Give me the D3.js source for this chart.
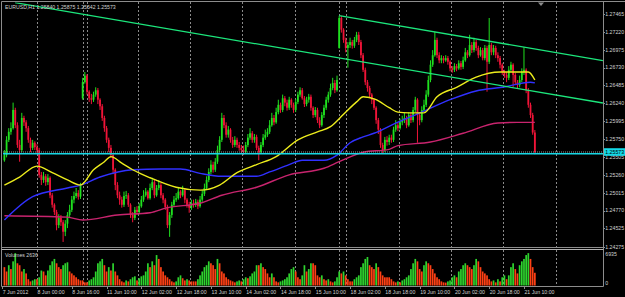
<!DOCTYPE html>
<html><head><meta charset="utf-8">
<script src="https://cdn.jsdelivr.net/npm/d3@7/dist/d3.min.js"></script>
<style>html,body{margin:0;padding:0;background:#000;overflow:hidden}svg{display:block}</style>
</head><body>
<script>
const titleText = "EURUSD,H1  1.25840 1.25875 1.25542 1.25573";
const volumeTitle = "Volumes 2636";
const firstOpen = 1.2546;
const gapOpens = [[36, 1.2631], [154, 1.2700]];
const closes = [1.2553,1.2574,1.2585,1.2590,1.2615,1.2594,1.2567,1.2560,1.2604,1.2598,
1.2590,1.2574,1.2563,1.2570,1.2564,1.2560,1.2526,1.2519,1.2524,1.2516,
1.2522,1.2498,1.2485,1.2475,1.2457,1.2467,1.2461,1.2448,1.2459,1.2471,
1.2478,1.2492,1.2497,1.2501,1.2496,1.2511,1.2653,1.2662,1.2640,1.2631,
1.2629,1.2636,1.2642,1.2629,1.2620,1.2604,1.2590,1.2574,1.2563,1.2553,
1.2533,1.2512,1.2498,1.2492,1.2485,1.2497,1.2498,1.2485,1.2471,1.2467,
1.2478,1.2475,1.2483,1.2492,1.2498,1.2503,1.2494,1.2508,1.2516,1.2498,
1.2508,1.2512,1.2498,1.2492,1.2482,1.2457,1.2471,1.2485,1.2492,1.2494,
1.2503,1.2498,1.2505,1.2492,1.2485,1.2481,1.2487,1.2485,1.2489,1.2483,
1.2492,1.2500,1.2508,1.2519,1.2530,1.2540,1.2533,1.2544,1.2560,1.2574,
1.2604,1.2594,1.2581,1.2588,1.2574,1.2567,1.2574,1.2567,1.2563,1.2560,
1.2557,1.2567,1.2577,1.2583,1.2574,1.2578,1.2563,1.2557,1.2567,1.2577,
1.2581,1.2585,1.2594,1.2604,1.2598,1.2612,1.2622,1.2615,1.2631,1.2625,
1.2618,1.2629,1.2622,1.2615,1.2626,1.2636,1.2642,1.2631,1.2623,1.2629,
1.2633,1.2618,1.2608,1.2615,1.2601,1.2594,1.2608,1.2618,1.2629,1.2636,
1.2645,1.2652,1.2642,1.2656,1.2741,1.2725,1.2711,1.2700,1.2704,1.2708,
1.2703,1.2711,1.2718,1.2708,1.2690,1.2670,1.2653,1.2645,1.2636,1.2629,
1.2618,1.2601,1.2588,1.2567,1.2560,1.2574,1.2571,1.2577,1.2574,1.2588,
1.2594,1.2590,1.2598,1.2601,1.2604,1.2594,1.2608,1.2601,1.2615,1.2629,
1.2608,1.2601,1.2615,1.2622,1.2636,1.2656,1.2677,1.2690,1.2711,1.2690,
1.2683,1.2686,1.2683,1.2686,1.2681,1.2672,1.2670,1.2675,1.2672,1.2679,
1.2674,1.2683,1.2694,1.2690,1.2704,1.2697,1.2708,1.2700,1.2690,1.2697,
1.2686,1.2700,1.2681,1.2704,1.2694,1.2700,1.2690,1.2686,1.2677,1.2667,
1.2663,1.2659,1.2670,1.2677,1.2663,1.2653,1.2649,1.2656,1.2667,1.2670,
1.2642,1.2622,1.2608,1.2584,1.25573];
const highs = [1.2560,1.2579,1.2590,1.2598,1.2625,1.2618,1.2598,1.2574,1.2611,1.2607,
1.2601,1.2593,1.2577,1.2574,1.2572,1.2568,1.2563,1.2530,1.2530,1.2527,
1.2527,1.2524,1.2501,1.2487,1.2478,1.2472,1.2471,1.2464,1.2464,1.2475,
1.2485,1.2497,1.2503,1.2508,1.2505,1.2515,1.2659,1.2667,1.2664,1.2642,
1.2637,1.2640,1.2646,1.2645,1.2631,1.2623,1.2607,1.2593,1.2577,1.2567,
1.2556,1.2535,1.2516,1.2503,1.2496,1.2503,1.2504,1.2501,1.2487,1.2475,
1.2482,1.2483,1.2487,1.2497,1.2505,1.2508,1.2505,1.2514,1.2522,1.2519,
1.2512,1.2519,1.2515,1.2501,1.2494,1.2485,1.2475,1.2489,1.2497,1.2501,
1.2508,1.2505,1.2511,1.2508,1.2494,1.2489,1.2492,1.2492,1.2493,1.2492,
1.2497,1.2505,1.2514,1.2524,1.2535,1.2546,1.2544,1.2549,1.2566,1.2579,
1.2611,1.2608,1.2598,1.2593,1.2590,1.2578,1.2579,1.2577,1.2571,1.2567,
1.2566,1.2571,1.2582,1.2590,1.2586,1.2582,1.2581,1.2566,1.2571,1.2582,
1.2588,1.2590,1.2601,1.2611,1.2608,1.2618,1.2629,1.2625,1.2636,1.2634,
1.2629,1.2633,1.2631,1.2625,1.2630,1.2640,1.2646,1.2645,1.2634,1.2633,
1.2637,1.2636,1.2620,1.2619,1.2618,1.2605,1.2612,1.2622,1.2633,1.2640,
1.2651,1.2659,1.2656,1.2662,1.2744,1.2744,1.2727,1.2714,1.2708,1.2714,
1.2711,1.2715,1.2722,1.2722,1.2711,1.2693,1.2673,1.2656,1.2648,1.2638,
1.2631,1.2620,1.2604,1.2590,1.2570,1.2578,1.2579,1.2581,1.2581,1.2592,
1.2601,1.2598,1.2603,1.2607,1.2611,1.2607,1.2612,1.2611,1.2619,1.2633,
1.2631,1.2612,1.2620,1.2629,1.2642,1.2662,1.2683,1.2697,1.2722,1.2714,
1.2694,1.2690,1.2689,1.2690,1.2689,1.2683,1.2675,1.2679,1.2678,1.2683,
1.2682,1.2688,1.2700,1.2697,1.2718,1.2708,1.2714,1.2711,1.2703,1.2701,
1.2700,1.2704,1.2703,1.2741,1.2707,1.2704,1.2703,1.2694,1.2689,1.2679,
1.2670,1.2667,1.2675,1.2681,1.2679,1.2666,1.2656,1.2662,1.2672,1.2701,
1.2672,1.2645,1.2625,1.2611,1.25875];
const lows = [1.2544,1.2550,1.2571,1.2581,1.2588,1.2590,1.2563,1.2544,1.2557,1.2593,
1.2585,1.2570,1.2557,1.2560,1.2560,1.2555,1.2522,1.2512,1.2515,1.2511,
1.2512,1.2494,1.2481,1.2471,1.2450,1.2453,1.2456,1.2434,1.2442,1.2453,
1.2467,1.2475,1.2487,1.2494,1.2492,1.2493,1.2629,1.2651,1.2636,1.2626,
1.2623,1.2626,1.2633,1.2623,1.2615,1.2600,1.2585,1.2570,1.2557,1.2549,
1.2527,1.2505,1.2494,1.2485,1.2481,1.2482,1.2493,1.2482,1.2467,1.2461,
1.2464,1.2471,1.2472,1.2481,1.2489,1.2496,1.2492,1.2492,1.2505,1.2494,
1.2496,1.2505,1.2494,1.2487,1.2478,1.2453,1.2441,1.2467,1.2482,1.2489,
1.2492,1.2494,1.2496,1.2487,1.2481,1.2474,1.2478,1.2481,1.2482,1.2479,
1.2481,1.2489,1.2497,1.2505,1.2516,1.2527,1.2529,1.2530,1.2541,1.2557,
1.2571,1.2590,1.2577,1.2577,1.2570,1.2563,1.2564,1.2563,1.2559,1.2555,
1.2553,1.2555,1.2564,1.2574,1.2570,1.2570,1.2560,1.2546,1.2555,1.2564,
1.2574,1.2578,1.2582,1.2592,1.2594,1.2596,1.2609,1.2611,1.2612,1.2620,
1.2614,1.2615,1.2618,1.2611,1.2612,1.2623,1.2633,1.2629,1.2619,1.2620,
1.2625,1.2614,1.2604,1.2605,1.2597,1.2590,1.2592,1.2604,1.2615,1.2625,
1.2633,1.2642,1.2638,1.2640,1.2699,1.2721,1.2707,1.2694,1.2673,1.2700,
1.2699,1.2700,1.2708,1.2704,1.2686,1.2667,1.2649,1.2640,1.2631,1.2623,
1.2615,1.2596,1.2582,1.2563,1.2556,1.2557,1.2566,1.2567,1.2570,1.2571,
1.2585,1.2586,1.2588,1.2594,1.2597,1.2590,1.2592,1.2597,1.2598,1.2612,
1.2570,1.2594,1.2598,1.2612,1.2619,1.2633,1.2653,1.2674,1.2688,1.2686,
1.2679,1.2679,1.2679,1.2681,1.2677,1.2668,1.2666,1.2667,1.2668,1.2670,
1.2670,1.2671,1.2681,1.2686,1.2688,1.2693,1.2694,1.2696,1.2686,1.2688,
1.2683,1.2683,1.2640,1.2678,1.2690,1.2690,1.2686,1.2681,1.2672,1.2663,
1.2659,1.2653,1.2656,1.2667,1.2646,1.2649,1.2645,1.2646,1.2653,1.2663,
1.2638,1.2618,1.2604,1.2581,1.25542];
const volumes = [3800,2900,4200,3400,5000,6700,4600,4200,2900,3400,
2500,1300,850,1050,1300,1300,1700,3100,2900,2100,
3100,4200,5000,5500,4600,3800,3400,4200,4600,4800,
2900,2500,2100,1700,1300,1050,1050,650,650,1050,
1300,1700,2900,4600,5000,5500,4200,2900,3800,3100,
4600,2900,2100,1300,850,650,1050,850,1300,1700,
1900,1050,1500,1900,2100,2900,4600,3800,5000,4200,
6300,5500,3800,2900,2100,1700,1300,850,650,850,
1700,2100,1500,1050,1300,1050,850,850,850,1300,
2100,2900,3800,4200,5000,4600,4200,3400,5500,4600,
2900,2500,1700,1300,1050,850,650,850,1050,850,
1300,1700,1500,1900,2500,2900,4200,4200,4600,3800,
3400,2500,1700,2500,1700,850,650,850,1050,1300,
1700,2500,3400,3800,2900,1700,1300,2100,4200,2900,
3400,4600,4600,4200,2100,1700,2100,1300,1050,1300,
850,650,850,1700,2900,2500,2900,2100,1300,850,
850,1300,1700,2100,3800,4600,5500,5900,4200,3800,
3400,4600,3800,2900,2100,1700,1700,1700,1300,850,
650,850,650,1050,1300,1700,2100,3400,4600,5500,
5000,3400,2900,4200,5000,4600,4200,3400,2500,1700,
1300,850,650,600,850,1050,1700,2100,1700,2900,
3400,4200,4600,4200,3800,3400,4200,5500,5000,3800,
2900,2500,2100,1300,850,1050,650,1300,850,1700,
2100,1300,2100,3800,4600,3400,2500,4200,5000,5500,
6300,6700,5500,3800,2636];
// moving averages: [bar index, price]
const maYellow = [[0,1.2512],[7,1.2523],[15,1.2538],[22,1.2529],[29,1.2519],[35,1.2512],[41,1.2533],[46,1.2544],[49,1.2551],[54,1.2542],[59,1.2533],[67,1.2522],[79,1.2509],[90,1.2505],[99,1.2512],[107,1.2529],[116,1.2540],[125,1.2551],[135,1.2574],[144,1.2585],[150,1.2592],[156,1.2609],[162,1.2626],[165,1.2633],[171,1.2629],[177,1.2618],[181,1.2612],[186,1.2611],[193,1.2611],[199,1.2633],[208,1.2646],[217,1.2660],[228,1.2667],[241,1.2667],[244,1.2656]];
const maBlue = [[0,1.2464],[13,1.2496],[29,1.2508],[35,1.2512],[44,1.2523],[59,1.2533],[72,1.2534],[81,1.2534],[90,1.2528],[100,1.2524],[116,1.2524],[122,1.2530],[131,1.2540],[137,1.2546],[147,1.2546],[153,1.2553],[159,1.2570],[165,1.2578],[170,1.2583],[180,1.2597],[192,1.2612],[205,1.2629],[217,1.2641],[229,1.2646],[242,1.2653],[244,1.2652]];
const maMagenta = [[0,1.2470],[29,1.2468],[36,1.2464],[52,1.2471],[67,1.2474],[75,1.2481],[90,1.2487],[100,1.2498],[116,1.2509],[131,1.2526],[147,1.2535],[154,1.2544],[165,1.2557],[177,1.2561],[181,1.2566],[196,1.2571],[211,1.2583],[227,1.2597],[236,1.2598],[244,1.2598]];
const lowerChannel = [[4.9, 1.27620], [275.3, 1.26245]];
const upperChannel = [[154, 1.27442], [275.3, 1.26826]];
const bidPrice = 1.25573;
const supportLevel = 1.2555;
const priceTicks = [1.27465,1.27220,1.26975,1.26730,1.26485,1.26240,1.25995,1.25750,1.25505,1.25260,1.25015,1.24770,1.24525,1.24275];
const volumeTicks = [6935, 0];
const timeLabels = ["7 Jun 2012","8 Jun 00:00","8 Jun 16:00","11 Jun 10:00","12 Jun 02:00","12 Jun 18:00","13 Jun 10:00","14 Jun 02:00","14 Jun 18:00","15 Jun 10:00","18 Jun 02:00","18 Jun 18:00","19 Jun 10:00","20 Jun 02:00","20 Jun 18:00","21 Jun 10:00"];
const timeLabelIdx = [-1,15,31,47,63,79,95,111,127,143,159,175,191,207,223,239];
const daySepIdx = [15,36,38,61.5,85.5,109.5,133.5,154,157,181.5,205.5,229.5,253.5];

const W = 625, H = 297;
const FONT = "'Liberation Sans', Arial, sans-serif";
const FS = 5.2;
const svg = d3.select("body").append("svg").attr("width", W).attr("height", H).style("background", "#000");
const x = d3.scaleLinear().domain([0, 275.3]).range([4.4, 602.9]);
const y = d3.scaleLinear().domain([1.24275, 1.27465]).range([246.7, 14]);
const yv = d3.scaleLinear().domain([0, 6935]).range([285.5, 252]);

const defs = svg.append("defs");
defs.append("clipPath").attr("id", "mainClip").append("rect").attr("x", 2.5).attr("y", 2.5).attr("width", 600.5).attr("height", 244.5);
defs.append("clipPath").attr("id", "volClip").append("rect").attr("x", 2.5).attr("y", 250.5).attr("width", 600.5).attr("height", 35.5);

// day separators
svg.append("g").selectAll("line").data(daySepIdx).join("line")
  .attr("x1", d => Math.round(x(d)) + 0.5).attr("x2", d => Math.round(x(d)) + 0.5)
  .attr("y1", 2).attr("y2", 286)
  .attr("stroke", "#8a8a8a").attr("stroke-width", 1).attr("stroke-dasharray", "2,2");

// candles
const bars = closes.map((c, i) => {
  const g = gapOpens.find(d => d[0] === i);
  const o = i === 0 ? firstOpen : (g ? g[1] : closes[i - 1]);
  return {i, o, c, h: Math.max(highs[i], o, c), l: Math.min(lows[i], o, c)};
});
const cg = svg.append("g").attr("clip-path", "url(#mainClip)");
const bull = "#1fe01f", bear = "#f01438";
cg.selectAll("line.w").data(bars).join("line").attr("class", "w")
  .attr("x1", d => x(d.i)).attr("x2", d => x(d.i))
  .attr("y1", d => y(d.h)).attr("y2", d => y(d.l))
  .attr("stroke", d => d.c >= d.o ? bull : bear).attr("stroke-width", 1);
cg.selectAll("rect.b").data(bars).join("rect").attr("class", "b")
  .attr("x", d => x(d.i) - 0.9).attr("width", 1.8)
  .attr("y", d => Math.min(y(d.o), y(d.c)))
  .attr("height", d => Math.max(0.8, Math.abs(y(d.o) - y(d.c))))
  .attr("fill", d => d.c >= d.o ? bull : bear);

// moving averages
const maLine = d3.line().x(d => x(d[0])).y(d => y(d[1])).curve(d3.curveMonotoneX);
[[maMagenta, "#c8246e"], [maBlue, "#3030ff"], [maYellow, "#ecec1c"]].forEach(([pts, col]) => {
  cg.append("path").attr("d", maLine(pts)).attr("fill", "none").attr("stroke", col).attr("stroke-width", 1.4);
});

// channel lines
const tl = d3.line().x(d => x(d[0])).y(d => y(d[1]));
[lowerChannel, upperChannel].forEach(pts => {
  cg.append("path").attr("d", tl(pts)).attr("fill", "none").attr("stroke", "#1ce67c").attr("stroke-width", 1.3);
});

// bid line and horizontal level
cg.append("line").attr("x1", 3).attr("x2", 603).attr("y1", y(bidPrice)).attr("y2", y(bidPrice))
  .attr("stroke", "#9a9a9a").attr("stroke-width", 1).attr("stroke-dasharray", "1,1");
cg.append("line").attr("x1", 3).attr("x2", 603).attr("y1", y(supportLevel)).attr("y2", y(supportLevel))
  .attr("stroke", "#14d8e6").attr("stroke-width", 1.4);

// volumes
const vg = svg.append("g").attr("clip-path", "url(#volClip)");
vg.selectAll("rect").data(volumes).join("rect")
  .attr("x", (d, i) => x(i) - 0.85).attr("width", 1.7)
  .attr("y", d => yv(d)).attr("height", d => yv(0) - yv(d))
  .attr("fill", (d, i) => (i > 0 && d > volumes[i - 1]) ? "#2ed42e" : "#ff4014");

// frame
const fr = svg.append("g").attr("stroke", "#8c8c8c").attr("fill", "none").attr("stroke-width", 1);
fr.append("line").attr("x1", 1.5).attr("x2", 625).attr("y1", 1.5).attr("y2", 1.5);
fr.append("line").attr("x1", 1.5).attr("x2", 1.5).attr("y1", 1.5).attr("y2", 286.5);
fr.append("line").attr("x1", 603.5).attr("x2", 603.5).attr("y1", 1.5).attr("y2", 286.5);
fr.append("line").attr("x1", 1.5).attr("x2", 603.5).attr("y1", 286.5).attr("y2", 286.5);
fr.append("line").attr("x1", 1.5).attr("x2", 603.5).attr("y1", 247.5).attr("y2", 247.5);
fr.append("line").attr("x1", 1.5).attr("x2", 603.5).attr("y1", 249.5).attr("y2", 249.5).attr("stroke", "#b0b0b0");

// chart shift marker
svg.append("path").attr("d", "M538,2.5 L544,2.5 L541,6 Z").attr("fill", "#8c8c8c");

const txt = "#d2d2d2";
// price axis
const pa = svg.append("g").attr("font-family", FONT).attr("font-size", FS).attr("fill", txt);
priceTicks.forEach(p => {
  pa.append("line").attr("x1", 603.5).attr("x2", 605).attr("y1", Math.round(y(p)) + 0.5).attr("y2", Math.round(y(p)) + 0.5).attr("stroke", "#8c8c8c");
  pa.append("text").attr("x", 605.3).attr("y", y(p)).attr("dy", "0.35em").text(p.toFixed(5));
});
// current price box
const by = y(bidPrice);
svg.append("rect").attr("x", 604).attr("y", by - 3.8).attr("width", 21).attr("height", 7.6).attr("fill", "#14d8e6");
svg.append("text").attr("x", 605.3).attr("y", by).attr("dy", "0.35em").attr("font-family", FONT).attr("font-size", FS).attr("fill", "#000").text(bidPrice.toFixed(5));

// volume axis
svg.append("text").attr("x", 605.3).attr("y", yv(volumeTicks[0]) + 4).attr("font-family", FONT).attr("font-size", FS).attr("fill", txt).text(volumeTicks[0]);
svg.append("text").attr("x", 605.3).attr("y", yv(volumeTicks[1]) - 1).attr("font-family", FONT).attr("font-size", FS).attr("fill", txt).text(volumeTicks[1]);

// time axis
const ta = svg.append("g").attr("font-family", FONT).attr("font-size", FS).attr("fill", txt);
timeLabels.forEach((t, k) => {
  const xx = x(timeLabelIdx[k]);
  ta.append("line").attr("x1", Math.round(xx) + 0.5).attr("x2", Math.round(xx) + 0.5).attr("y1", 286.5).attr("y2", 289).attr("stroke", "#8c8c8c");
  ta.append("text").attr("x", xx + 0.5).attr("y", 293.8).text(t);
});

// titles
svg.append("text").attr("x", 5).attr("y", 9).attr("font-family", FONT).attr("font-size", FS).attr("fill", txt).text(titleText);
svg.append("text").attr("x", 5).attr("y", 256.5).attr("font-family", FONT).attr("font-size", FS).attr("fill", txt).text(volumeTitle);
</script>
</body></html>
